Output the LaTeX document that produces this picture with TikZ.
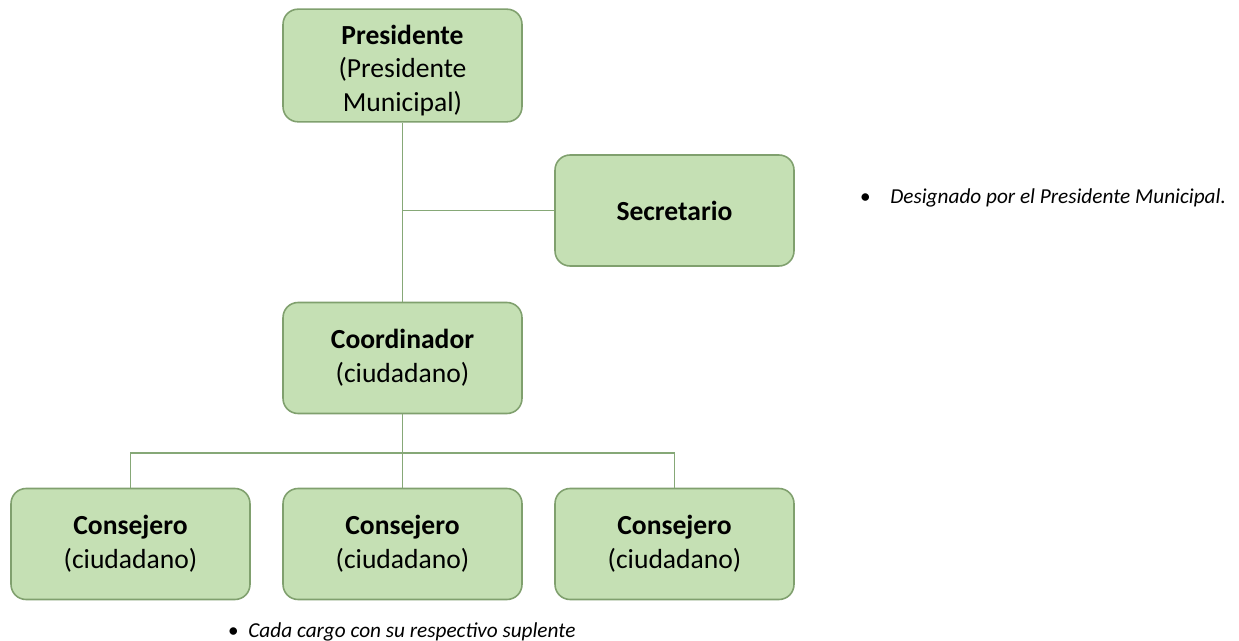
\documentclass[tikz,border=0pt]{standalone}
\usepackage{fontspec}
\setmainfont{Carlito}
\usetikzlibrary{positioning,calc}

\tikzset{
    cargo/.style={draw=boxline, fill=boxfill, line width=0.9pt, rounded corners=0.3cm,
        minimum width=4.78cm, minimum height=2.22cm, align=center,
        font=\fontsize{15.7}{19.2}\selectfont},
    enlace/.style={draw=linkline, line width=1.1pt},
    nota/.style={font=\fontsize{12.1}{14.5}\selectfont\itshape, anchor=base west, inner sep=0pt}
}
\definecolor{boxfill}{HTML}{C5E0B4}
\definecolor{boxline}{HTML}{80A06E}
\definecolor{linkline}{HTML}{86A877}

\begin{document}
\begin{tikzpicture}[x=0.02cm, y=-0.02cm]
    \useasboundingbox (0,0) rectangle (1239,641);
    % Cargos
    \node[cargo] (pres) at (402.5, 65.5) {\rule{0pt}{16.5pt}\textbf{Presidente}\\(Presidente\\Municipal)};
    \node[cargo] (secr) at (674.5, 210.5) {\textbf{Secretario}};
    \node[cargo] (coord) at (402.5, 358) {\textbf{Coordinador}\\(ciudadano)};
    \node[cargo] (cons1) at (130.5, 544) {\textbf{Consejero}\\(ciudadano)};
    \node[cargo] (cons2) at (402.5, 544) {\textbf{Consejero}\\(ciudadano)};
    \node[cargo] (cons3) at (674.5, 544) {\textbf{Consejero}\\(ciudadano)};
    % Enlaces
    \coordinate (bus) at (402.5, 453);
    \draw[enlace] (pres) -- (coord);
    \draw[enlace] (secr.west) -- (secr.west -| pres);
    \draw[enlace] (coord) -- (cons2);
    \draw[enlace] (cons1.north) |- (bus) -| (cons3.north);
    % Notas
    \node[nota] (notasecr) at (890, 204) {\llap{\textbullet\hspace{0.4cm}}Designado por el Presidente Municipal.};
    \node[nota] (notacargo) at (248, 637) {\llap{\textbullet\hspace{0.2cm}}Cada cargo con su respectivo suplente};
\end{tikzpicture}
\end{document}
